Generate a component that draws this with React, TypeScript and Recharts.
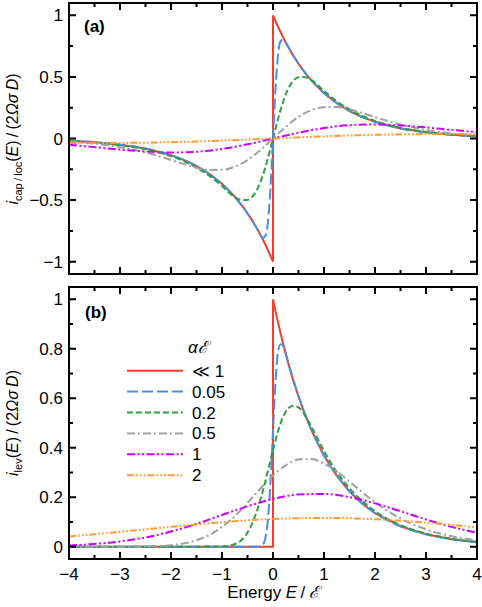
import React from 'react';
import { LineChart, Line, XAxis, YAxis } from 'recharts';

const FONT = '"Liberation Sans", Arial, Helvetica, sans-serif';
const INK = '#000000';

const ALPHA_LABELS = ['\u226A 1', '0.05', '0.2', '0.5', '1', '2'];
const COLORS = ['#EE3F2D', '#4A8FE7', '#2EA042', '#A0A0A0', '#CC00FF', '#FF9A33'];
const DASHES: (string | undefined)[] = [undefined, '11 4', '6 3', '8 3 2 3', '8 2.5 2 2.5 2 2.5', '7 2 1.8 2 1.8 2 1.8 2'];

const X_TICKS = [-4, -3.5, -3, -2.5, -2, -1.5, -1, -0.5, 0, 0.5, 1, 1.5, 2, 2.5, 3, 3.5, 4];
const Y_TICKS_A = [-1, -0.75, -0.5, -0.25, 0, 0.25, 0.5, 0.75, 1];
const Y_TICKS_B = [0, 0.1, 0.2, 0.3, 0.4, 0.5, 0.6, 0.7, 0.8, 0.9, 1];

const X_DOMAIN: [number, number] = [-4, 4];
const Y_DOMAIN_A: [number, number] = [-1.1, 1.1];
const Y_DOMAIN_B: [number, number] = [-0.05, 1.05];

// ================= panel (a): i_cap/loc =================
const E_RED_A = [-4, -3.5, -3, -2.5, -2, -1.75, -1.5, -1.25, -1, -0.75, -0.6, -0.5, -0.4, -0.3, -0.2, -0.1, 0, 0, 0.1, 0.2, 0.3, 0.4, 0.5, 0.6, 0.75, 1, 1.25, 1.5, 1.75, 2, 2.5, 3, 3.5, 4];
const I_RED_A = [-0.018, -0.03, -0.05, -0.082, -0.135, -0.174, -0.223, -0.287, -0.368, -0.472, -0.549, -0.607, -0.67, -0.741, -0.819, -0.905, -1, 1, 0.905, 0.819, 0.741, 0.67, 0.607, 0.549, 0.472, 0.368, 0.287, 0.223, 0.174, 0.135, 0.082, 0.05, 0.03, 0.018];
const E_BLUE_A = [-4, -3.5, -3, -2.5, -2, -1.75, -1.5, -1.25, -1, -0.75, -0.6, -0.5, -0.4, -0.3, -0.25, -0.2, -0.15, -0.1, -0.05, 0, 0.05, 0.1, 0.15, 0.2, 0.25, 0.3, 0.4, 0.5, 0.6, 0.75, 1, 1.25, 1.5, 1.75, 2, 2.5, 3, 3.5, 4];
const I_BLUE_A = [-0.018, -0.03, -0.05, -0.082, -0.136, -0.174, -0.224, -0.288, -0.369, -0.474, -0.551, -0.609, -0.673, -0.744, -0.78, -0.805, -0.79, -0.683, -0.409, 0, 0.409, 0.683, 0.79, 0.805, 0.78, 0.744, 0.673, 0.609, 0.551, 0.474, 0.369, 0.288, 0.224, 0.174, 0.136, 0.082, 0.05, 0.03, 0.018];
const E_GREEN_A = [-4, -3.5, -3, -2.5, -2, -1.75, -1.5, -1.25, -1, -0.75, -0.6, -0.5, -0.4, -0.3, -0.2, -0.1, 0, 0.1, 0.2, 0.3, 0.4, 0.5, 0.6, 0.75, 1, 1.25, 1.5, 1.75, 2, 2.5, 3, 3.5, 4];
const I_GREEN_A = [-0.019, -0.032, -0.053, -0.087, -0.143, -0.184, -0.236, -0.302, -0.386, -0.476, -0.5, -0.498, -0.47, -0.405, -0.3, -0.16, 0, 0.16, 0.3, 0.405, 0.47, 0.498, 0.5, 0.476, 0.386, 0.302, 0.236, 0.184, 0.143, 0.087, 0.053, 0.032, 0.019];
const E_GRAY_A = [-4, -3.5, -3, -2.5, -2, -1.75, -1.5, -1.25, -1, -0.75, -0.5, -0.25, 0, 0.25, 0.5, 0.75, 1, 1.25, 1.5, 1.75, 2, 2.5, 3, 3.5, 4];
const I_GRAY_A = [-0.026, -0.042, -0.07, -0.113, -0.174, -0.207, -0.237, -0.255, -0.254, -0.229, -0.175, -0.095, 0, 0.095, 0.175, 0.229, 0.254, 0.255, 0.237, 0.207, 0.174, 0.113, 0.07, 0.042, 0.026];
const E_PURPLE_A = [-4, -3.5, -3, -2.5, -2, -1.5, -1, -0.5, 0, 0.5, 1, 1.5, 2, 2.5, 3, 3.5, 4];
const I_PURPLE_A = [-0.051, -0.07, -0.09, -0.106, -0.114, -0.108, -0.085, -0.047, 0, 0.047, 0.085, 0.108, 0.114, 0.106, 0.09, 0.07, 0.051];
const E_ORANGE_A = [-4, -3, -2, -1, 0, 1, 2, 3, 4];
const I_ORANGE_A = [-0.037, -0.036, -0.03, -0.017, 0, 0.017, 0.03, 0.036, 0.037];

// ================= panel (b): i_lev =================
const E_RED_B = [-4, 0, 0, 0.1, 0.2, 0.3, 0.4, 0.5, 0.6, 0.75, 1, 1.25, 1.5, 1.75, 2, 2.5, 3, 3.5, 4];
const I_RED_B = [0, 0, 1, 0.905, 0.819, 0.741, 0.67, 0.607, 0.549, 0.472, 0.368, 0.287, 0.223, 0.174, 0.135, 0.082, 0.05, 0.03, 0.018];
const E_BLUE_B = [-4, -0.3, -0.25, -0.2, -0.15, -0.1, -0.05, 0, 0.05, 0.1, 0.15, 0.2, 0.25, 0.3, 0.4, 0.5, 0.6, 0.75, 1, 1.25, 1.5, 1.75, 2, 2.5, 3, 3.5, 4];
const I_BLUE_B = [0, 0, 0.001, 0.0075, 0.034, 0.108, 0.259, 0.469, 0.668, 0.79, 0.818, 0.812, 0.781, 0.744, 0.673, 0.609, 0.551, 0.474, 0.369, 0.288, 0.224, 0.174, 0.136, 0.082, 0.05, 0.03, 0.018];
const E_GREEN_B = [-4, -1.5, -1, -0.75, -0.6, -0.5, -0.4, -0.3, -0.2, -0.1, 0, 0.1, 0.2, 0.3, 0.4, 0.5, 0.6, 0.75, 1, 1.25, 1.5, 1.75, 2, 2.5, 3, 3.5, 4];
const I_GREEN_B = [0, 0, 0.001, 0.01, 0.03, 0.057, 0.097, 0.154, 0.225, 0.307, 0.391, 0.467, 0.526, 0.56, 0.57, 0.563, 0.54, 0.486, 0.387, 0.302, 0.236, 0.184, 0.143, 0.087, 0.053, 0.032, 0.019];
const E_GRAY_B = [-4, -3, -2.5, -2, -1.5, -1.25, -1, -0.75, -0.5, -0.25, 0, 0.25, 0.5, 0.75, 1, 1.25, 1.5, 1.75, 2, 2.5, 3, 3.5, 4];
const I_GRAY_B = [0, 0, 0.001, 0.006, 0.026, 0.047, 0.08, 0.123, 0.177, 0.234, 0.288, 0.329, 0.352, 0.354, 0.336, 0.304, 0.263, 0.22, 0.18, 0.114, 0.07, 0.042, 0.026];
const E_PURPLE_B = [-4, -3.5, -3, -2.5, -2, -1.5, -1, -0.5, 0, 0.5, 1, 1.5, 2, 2.5, 3, 3.5, 4];
const I_PURPLE_B = [0.005, 0.011, 0.021, 0.037, 0.061, 0.092, 0.128, 0.163, 0.193, 0.211, 0.213, 0.2, 0.175, 0.143, 0.11, 0.08, 0.056];
const E_ORANGE_B = [-4, -3, -2, -1, 0, 1, 2, 3, 4];
const I_ORANGE_B = [0.041, 0.06, 0.08, 0.099, 0.112, 0.116, 0.111, 0.097, 0.078];

type Pt = { x: number; y: number | null };
const zip = (xs: number[], ys: number[]): Pt[] => xs.map((x, i) => ({ x, y: ys[i] }));

const SERIES_A = [
  zip(E_RED_A, I_RED_A), zip(E_BLUE_A, I_BLUE_A), zip(E_GREEN_A, I_GREEN_A),
  zip(E_GRAY_A, I_GRAY_A), zip(E_PURPLE_A, I_PURPLE_A), zip(E_ORANGE_A, I_ORANGE_A),
];
const SERIES_B = [
  zip(E_RED_B, I_RED_B), zip(E_BLUE_B, I_BLUE_B), zip(E_GREEN_B, I_GREEN_B),
  zip(E_GRAY_B, I_GRAY_B), zip(E_PURPLE_B, I_PURPLE_B), zip(E_ORANGE_B, I_ORANGE_B),
];

const fmt = (v: number) => (v < 0 ? '\u2212' : '') + String(Math.abs(Math.round(v * 100) / 100));

const MAJOR_PX = 7;
const MINOR_PX = 4;
const CHART_W = 482;
const LEFT_W = 69;
const RIGHT_M = 5;

const xMajor = (v: number) => Number.isInteger(v);
const yMajorA = (v: number) => Math.round(v * 4) % 2 === 0;
const yMajorB = (v: number) => Math.round(v * 10) % 2 === 0;

// frame outline along the axis domains
const frameOf = (yd: [number, number]): Pt[] => [
  { x: X_DOMAIN[0], y: yd[0] },
  { x: X_DOMAIN[1], y: yd[0] },
  { x: X_DOMAIN[1], y: yd[1] },
  { x: X_DOMAIN[0], y: yd[1] },
  { x: X_DOMAIN[0], y: yd[0] },
];

// inward tick marks on all four sides, built from the tick arrays (lengths converted from px to data units)
const ticksOf = (yd: [number, number], yTicks: number[], isMajor: (v: number) => boolean, plotH: number): Pt[] => {
  const plotW = CHART_W - LEFT_W - RIGHT_M;
  const dxPx = (X_DOMAIN[1] - X_DOMAIN[0]) / plotW;
  const dyPx = (yd[1] - yd[0]) / plotH;
  const out: Pt[] = [];
  X_TICKS.forEach((t) => {
    const l = (xMajor(t) ? MAJOR_PX : MINOR_PX) * dyPx;
    out.push({ x: t, y: yd[0] }, { x: t, y: yd[0] + l }, { x: t, y: null });
    out.push({ x: t, y: yd[1] }, { x: t, y: yd[1] - l }, { x: t, y: null });
  });
  yTicks.forEach((t) => {
    const l = (isMajor(t) ? MAJOR_PX : MINOR_PX) * dxPx;
    out.push({ x: X_DOMAIN[0], y: t }, { x: X_DOMAIN[0] + l, y: t }, { x: X_DOMAIN[0], y: null });
    out.push({ x: X_DOMAIN[1], y: t }, { x: X_DOMAIN[1] - l, y: t }, { x: X_DOMAIN[1], y: null });
  });
  return out;
};

const bottomLabel = (props: any) => {
  const x = Number(props.x);
  const y = Number(props.y);
  const v = props.payload.value;
  if (!xMajor(v)) return <g />;
  return <text x={x} y={y + 21} textAnchor="middle" fontSize={17} fontFamily={FONT} fill="#000">{fmt(v)}</text>;
};
const leftLabel = (isMajor: (v: number) => boolean) => (props: any) => {
  const x = Number(props.x);
  const y = Number(props.y);
  const v = props.payload.value;
  if (!isMajor(v)) return <g />;
  return <text x={x - 6} y={y + 6} textAnchor="end" fontSize={17} fontFamily={FONT} fill="#000">{fmt(v)}</text>;
};

function Panel(props: {
  height: number;
  top: number;
  bottom: number;
  xHeight: number;
  showXLabels: boolean;
  yDomain: [number, number];
  yTicks: number[];
  isMajor: (v: number) => boolean;
  series: Pt[][];
  ink: string;
}) {
  const { height, top, bottom, xHeight, showXLabels, yDomain, yTicks, isMajor, series, ink } = props;
  const plotH = height - top - bottom - xHeight;
  const common = { tickSize: 0, tickMargin: 0, tickLine: false, axisLine: false, interval: 0 as const };
  return (
    <LineChart width={CHART_W} height={height} margin={{ top, right: RIGHT_M, bottom, left: 0 }}>
      <XAxis type="number" dataKey="x" domain={X_DOMAIN} ticks={X_TICKS} orientation="bottom" height={xHeight} tick={showXLabels ? bottomLabel : false} {...common} />
      <YAxis type="number" domain={yDomain} ticks={yTicks} orientation="left" width={LEFT_W} tick={leftLabel(isMajor)} {...common} />
      {series.map((d, i) => (
        <Line key={i} data={d} dataKey="y" type={i === 0 ? 'linear' : 'monotone'} stroke={COLORS[i]} strokeWidth={2} strokeDasharray={DASHES[i]} dot={false} activeDot={false} isAnimationActive={false} />
      ))}
      <Line data={ticksOf(yDomain, yTicks, isMajor, plotH)} dataKey="y" type="linear" stroke={ink} strokeWidth={2} dot={false} activeDot={false} connectNulls={false} isAnimationActive={false} />
      <Line data={frameOf(yDomain)} dataKey="y" type="linear" stroke={ink} strokeWidth={2} strokeLinecap="square" dot={false} activeDot={false} isAnimationActive={false} />
    </LineChart>
  );
}

export default function App() {
  const legendTop = 370.7;
  const legendStep = 20.9;
  const thin = '\u2009';
  return (
    <div style={{ position: 'absolute', left: 0, top: 0, width: 482, height: 607, background: '#fff', fontFamily: FONT }}>
      <div style={{ position: 'absolute', left: 0, top: 0 }}>
        <Panel height={280} top={3} bottom={6} xHeight={0} showXLabels={false} yDomain={Y_DOMAIN_A} yTicks={Y_TICKS_A} isMajor={yMajorA} series={SERIES_A} ink={INK} />
      </div>
      <div style={{ position: 'absolute', left: 0, top: 280 }}>
        <Panel height={327} top={7} bottom={0} xHeight={48} showXLabels={true} yDomain={Y_DOMAIN_B} yTicks={Y_TICKS_B} isMajor={yMajorB} series={SERIES_B} ink={INK} />
      </div>
      <svg width={482} height={607} style={{ position: 'absolute', left: 0, top: 0, pointerEvents: 'none' }} fontFamily={FONT}>
        <text x={84} y={32} fontSize={17} fontWeight="bold" fill="#000">(a)</text>
        <text x={85} y={318} fontSize={17} fontWeight="bold" fill="#000">(b)</text>

        <text transform="translate(18,139) rotate(-90)" textAnchor="middle" fontSize={16} fill="#000">
          <tspan fontStyle="italic">i</tspan>
          <tspan fontSize={11} dy={3.5}>{`cap${thin}/${thin}loc`}</tspan>
          <tspan dy={-3.5}>(</tspan>
          <tspan fontStyle="italic">E</tspan>
          <tspan>{`)${thin}/${thin}(2`}</tspan>
          <tspan fontStyle="italic">{`\u03A9\u03C3${thin}D`}</tspan>
          <tspan>)</tspan>
        </text>
        <text transform="translate(18,423) rotate(-90)" textAnchor="middle" fontSize={16} fill="#000">
          <tspan fontStyle="italic">i</tspan>
          <tspan fontSize={11} dy={3.5}>lev</tspan>
          <tspan dy={-3.5}>(</tspan>
          <tspan fontStyle="italic">E</tspan>
          <tspan>{`)${thin}/${thin}(2`}</tspan>
          <tspan fontStyle="italic">{`\u03A9\u03C3${thin}D`}</tspan>
          <tspan>)</tspan>
        </text>

        <text x={273} y={598} textAnchor="middle" fontSize={17} fill="#000">
          <tspan>Energy </tspan>
          <tspan fontStyle="italic">E</tspan>
          <tspan>{`${thin}/${thin}`}</tspan>
          <tspan fontStyle="italic">{'\u2130'}</tspan>
        </text>

        <text x={188} y={353} fontSize={17} fontStyle="italic" fill="#000">{'\u03B1\u2130'}</text>
        {ALPHA_LABELS.map((lab, i) => {
          const yy = legendTop + i * legendStep;
          return (
            <g key={i}>
              <line x1={127} x2={183} y1={yy} y2={yy} stroke={COLORS[i]} strokeWidth={2} strokeDasharray={DASHES[i]} />
              <text x={192} y={yy + 6} fontSize={17} fill="#000">{lab}</text>
            </g>
          );
        })}
      </svg>
    </div>
  );
}
